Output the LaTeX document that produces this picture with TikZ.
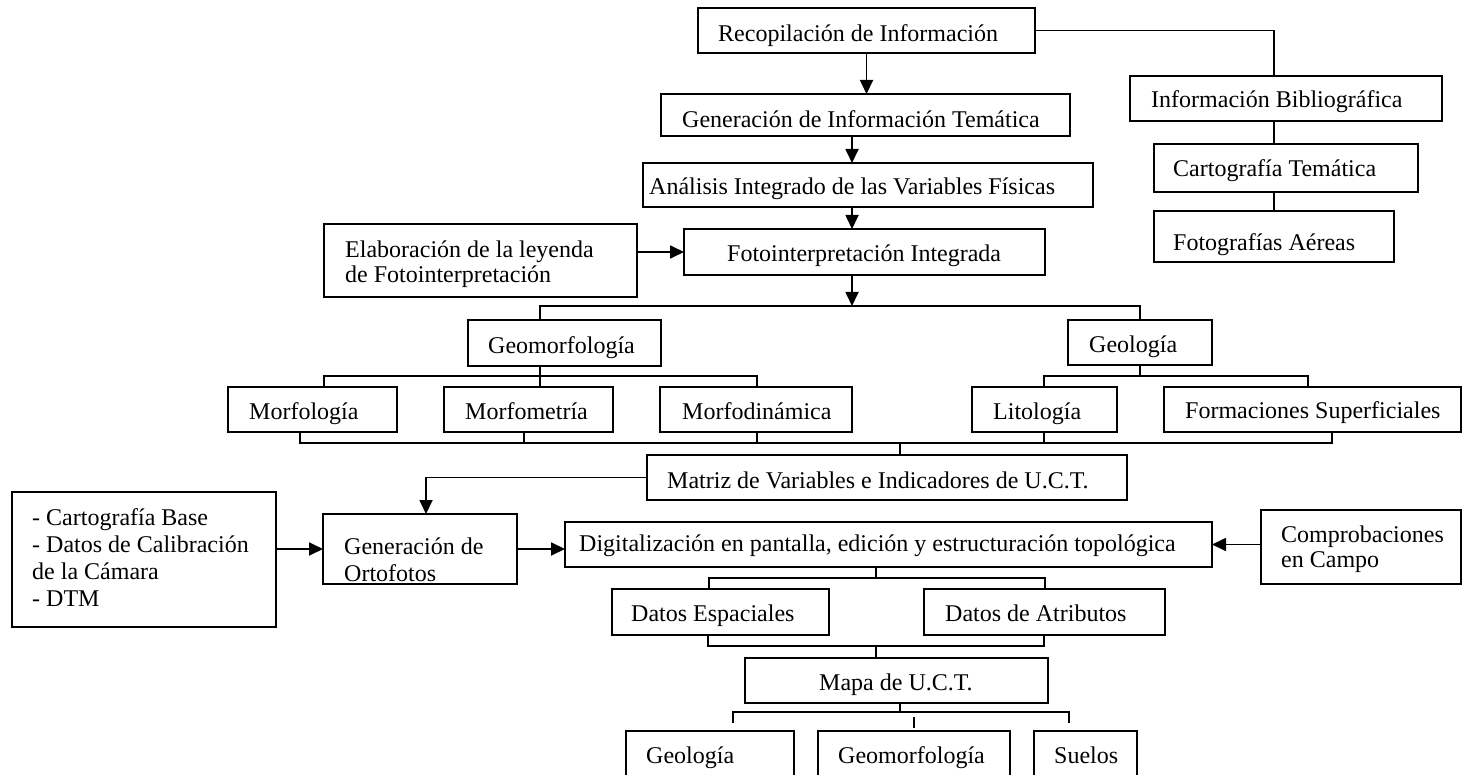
\documentclass[tikz,border=0pt]{standalone}
\usepackage{fontspec}
\setmainfont{Liberation Serif}
\usetikzlibrary{arrows.meta}
% framed box given by its top-left and bottom-right corners
\newcommand\cbox[5]{\node[box, minimum width={#4-#2}, minimum height={#5-#3}] (#1) at (#2,#3) {};}
% left-aligned multi-line text whose base is the first line
\newcommand\ml[1]{\begin{tabular}[t]{@{}l@{}}#1\end{tabular}}
\begin{document}
\begin{tikzpicture}[x=1pt,y=-1pt,
  box/.style={draw, line width=2pt, inner sep=0pt, outer sep=0pt, anchor=north west},
  txt/.style={anchor=base west, inner sep=0pt, font=\fontsize{24}{26}\selectfont},
  txtw/.style={txt, font=\fontsize{24}{27}\selectfont},
  wire/.style={line width=1.8pt},
  arr/.style={wire, -{Triangle[length=14pt,width=13pt]}}]
\clip (0,0) rectangle (1463,775);
\fill[white] (0,0) rectangle (1463,775);

% boxes
\cbox{rec}{698}{8}{1035}{53}
\cbox{gen}{661}{94}{1070}{136}
\cbox{ana}{643}{163}{1093}{207}
\cbox{inf}{1130}{76}{1442}{121}
\cbox{car}{1154}{144}{1418}{192}
\cbox{fa}{1154}{211}{1394}{262}
\cbox{ela}{324}{224}{637}{297}
\cbox{fot}{684}{229}{1045}{275}
\cbox{geom}{468}{320}{661}{366}
\cbox{geol}{1068}{320}{1212}{365}
\cbox{mfl}{228}{387}{397}{432}
\cbox{mfm}{444}{387}{613}{432}
\cbox{mfd}{660}{387}{852}{432}
\cbox{lit}{972}{387}{1117}{432}
\cbox{frm}{1164}{387}{1461}{432}
\cbox{mat}{647}{455}{1127}{500}
\cbox{lst}{12}{492}{276}{627}
\cbox{ort}{323}{514}{517}{584}
\cbox{dig}{565}{522}{1212}{567}
\cbox{comp}{1261}{510}{1461}{584}
\cbox{de}{612}{589}{829}{635}
\cbox{da}{924}{589}{1165}{635}
\cbox{map}{745}{658}{1048}{703}
\cbox{bg1}{626}{731}{794}{792}
\cbox{bg2}{818}{731}{1010}{792}
\cbox{bg3}{1034}{731}{1137}{792}

% texts
\node[txt] (rec-t) at (718,42) {Recopilación de Información};
\node[txt] (gen-t) at (682,128) {Generación de Información Temática};
\node[txt] (ana-t) at (649,195) {Análisis Integrado de las Variables Físicas};
\node[txt] (inf-t) at (1151,108) {Información Bibliográfica};
\node[txt] (car-t) at (1173,177) {Cartografía Temática};
\node[txt] (fa-t) at (1173,251) {Fotografías Aéreas};
\node[txt, font=\fontsize{24}{25}\selectfont] (ela-t) at (345,258) {\ml{Elaboración de la leyenda\\de Fotointerpretación}};
\node[txt] (fot-t) at (727,262) {Fotointerpretación Integrada};
\node[txt] (geom-t) at (488,353) {Geomorfología};
\node[txt] (geol-t) at (1089,352) {Geología};
\node[txt] (mfl-t) at (249,419) {Morfología};
\node[txt] (mfm-t) at (465,419) {Morfometría};
\node[txt] (mfd-t) at (682,419) {Morfodinámica};
\node[txt] (lit-t) at (993,419) {Litología};
\node[txt] (frm-t) at (1185,418) {Formaciones Superficiales};
\node[txt] (mat-t) at (667,488) {Matriz de Variables e Indicadores de U.C.T.};
\node[txtw] (lst-t) at (32,525) {\ml{- Cartografía Base\\- Datos de Calibración\\de la Cámara\\- DTM}};
\node[txtw] (ort-t) at (344,554) {\ml{Generación de\\Ortofotos}};
\node[txt] (dig-t) at (579,551) {Digitalización en pantalla, edición y estructuración topológica};
\node[txt, font=\fontsize{24}{25}\selectfont] (comp-t) at (1281,542) {\ml{Comprobaciones\\en Campo}};
\node[txt] (de-t) at (631,621) {Datos Espaciales};
\node[txt] (da-t) at (945,621) {Datos de Atributos};
\node[txt] (map-t) at (819,690) {Mapa de U.C.T.};
\node[txt] (bg1-t) at (646,763) {Geología};
\node[txt] (bg2-t) at (838,763) {Geomorfología};
\node[txt] (bg3-t) at (1054,763) {Suelos};

% junction points of the connector buses
\coordinate (sp) at (852,0);
\coordinate (b1) at (540,306);
\coordinate (b1r) at (1140,306);
\coordinate (b2l) at (324,376);
\coordinate (b2r) at (757,376);
\coordinate (b3l) at (1044,376);
\coordinate (b3r) at (1308,376);
\coordinate (b4l) at (300,443);
\coordinate (b4a) at (524,443);
\coordinate (b4b) at (757,443);
\coordinate (b4c) at (1044,443);
\coordinate (b4m) at (900,443);
\coordinate (b4r) at (1332,443);
\coordinate (b5) at (426,476);
\coordinate (b6) at (876,578);
\coordinate (b6l) at (709,578);
\coordinate (b6r) at (1045,578);
\coordinate (b7l) at (708,646);
\coordinate (b7m) at (876,646);
\coordinate (b7r) at (1044,646);
\coordinate (b8m) at (900,712);
\coordinate (b8l) at (733,712);
\coordinate (b8r) at (1069,712);
\coordinate (t8l) at (733,723);
\coordinate (t8r) at (1069,723);
\coordinate (k1) at (914,717);
\coordinate (k2) at (914,728);

% main chain
\draw[arr] (rec.south) -- (rec.south |- gen.north);
\draw[arr] (gen.south -| sp) -- (ana.north -| sp);
\draw[arr] (ana.south -| sp) -- (fot.north -| sp);
\draw[arr] (ela.east |- fot.west) -- (fot.west);
\draw[arr] (fot.south -| sp) -- (sp |- b1);
\draw[wire] (geom.north -| b1) -- (b1) -- (b1r) -- (geol.north -| b1r);

% bibliographic branch
\draw[wire] (rec.east) -| (inf.north -| fa.north);
\draw[wire] (inf.south -| fa.north) -- (car.north -| fa.north);
\draw[wire] (car.south -| fa.north) -- (fa.north);

% geomorphology and geology branches
\draw[wire] (geom.south -| b1) -- (mfm.north -| b1);
\draw[wire] (mfl.north -| b2l) -- (b2l) -- (b2r) -- (mfd.north -| b2r);
\draw[wire] (geol.south -| b1r) -- (b1r |- b3l);
\draw[wire] (lit.north -| b3l) -- (b3l) -- (b3r) -- (frm.north -| b3r);

% collecting bus into the matrix
\draw[wire] (mfl.south -| b4l) -- (b4l) -- (b4r) -- (frm.south -| b4r);
\draw[wire] (mfm.south -| b4a) -- (b4a);
\draw[wire] (mfd.south -| b4b) -- (b4b);
\draw[wire] (lit.south -| b4c) -- (b4c);
\draw[wire] (b4m) -- (mat.north -| b4m);

% orthophoto generation and digitising
\draw[arr] (mat.west) -- (mat.west -| b5) -- (ort.north -| b5);
\draw[arr] (lst.east |- ort.west) -- (ort.west);
\draw[arr] (ort.east) -- (ort.east -| dig.west);
\draw[arr] (comp.west |- dig.east) -- (dig.east);

% data split and map
\draw[wire] (dig.south -| b6) -- (b6);
\draw[wire] (de.north -| b6l) -- (b6l) -- (b6r) -- (da.north -| b6r);
\draw[wire] (de.south -| b7l) -- (b7l) -- (b7r) -- (da.south -| b7r);
\draw[wire] (b7m) -- (map.north -| b7m);

% thematic maps
\draw[wire] (map.south -| b8m) -- (b8m);
\draw[wire] (t8l) -- (b8l) -- (b8r) -- (t8r);
\draw[wire] (k1) -- (k2);
\end{tikzpicture}
\end{document}
